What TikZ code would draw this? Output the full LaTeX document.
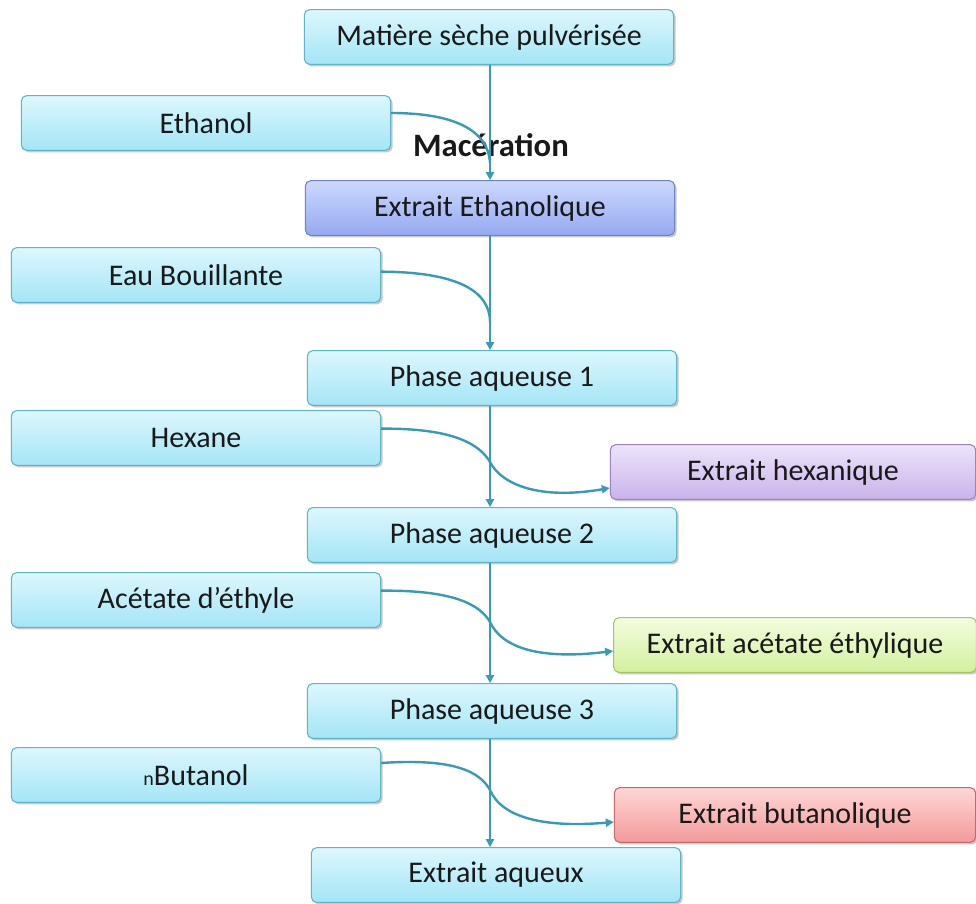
\documentclass[tikz,border=0pt]{standalone}
\usepackage{fontspec}
\setmainfont{Carlito}
\usetikzlibrary{shadows,arrows.meta,calc}
\definecolor{cyT}{HTML}{DDF7FD}
\definecolor{cyB}{HTML}{A4E5F6}
\definecolor{cyD}{HTML}{5FB3CB}
\definecolor{blT}{HTML}{CDD8FD}
\definecolor{blB}{HTML}{94A9F1}
\definecolor{blD}{HTML}{6E83C6}
\definecolor{puT}{HTML}{EDE3FA}
\definecolor{puB}{HTML}{C9B3EA}
\definecolor{puD}{HTML}{9A84BF}
\definecolor{grT}{HTML}{F3FDDF}
\definecolor{grB}{HTML}{D3F09F}
\definecolor{grD}{HTML}{A6C46E}
\definecolor{rdT}{HTML}{FFD6D6}
\definecolor{rdB}{HTML}{F39A9A}
\definecolor{rdD}{HTML}{C56A6A}
\definecolor{lineC}{HTML}{3A9AB6}
\tikzset{
  box/.style={draw=cyD, line width=0.8pt, rounded corners=4pt,
    top color=cyT, bottom color=cyB, minimum width=277pt, minimum height=41pt,
    inner sep=0pt, text=black!90, font=\fontsize{22.5}{26}\selectfont,
    drop shadow={shadow xshift=1.5pt, shadow yshift=-1.5pt, opacity=0.35, fill=black!60}},
  bluebox/.style={box, draw=blD, top color=blT, bottom color=blB},
  purplebox/.style={box, draw=puD, top color=puT, bottom color=puB, minimum width=274pt},
  greenbox/.style={box, draw=grD, top color=grT, bottom color=grB, minimum width=272pt},
  redbox/.style={box, draw=rdD, top color=rdT, bottom color=rdB, minimum width=271pt},
  conn/.style={draw=lineC, line width=1.8pt},
  arr/.style={conn, -{Triangle[length=6pt,width=6pt]}},
}
\begin{document}
\begin{tikzpicture}[x=0.75pt, y=-0.75pt]
\useasboundingbox[fill=white] (0,0) rectangle (976,904);
% main column
\node[box] (mat) at (489,37) {Matière sèche pulvérisée};
\node[bluebox] (eeth) at (490,208) {Extrait Ethanolique};
\node[box] (pa1) at (492,378) {Phase aqueuse 1};
\node[box] (pa2) at (492,535) {Phase aqueuse 2};
\node[box] (pa3) at (492,711) {Phase aqueuse 3};
\node[box] (aq) at (496,875) {Extrait aqueux};
% left inputs
\node[box] (eth) at (206,123) {Ethanol};
\node[box] (eau) at (196,275) {Eau Bouillante};
\node[box] (hex) at (196,438) {Hexane};
\node[box] (ace) at (196,600) {Acétate d’éthyle};
\node[box] (but) at (196,775) {{\fontsize{15}{15}\selectfont n}Butanol};
% right outputs
\node[purplebox] (xhex) at (793,472) {Extrait hexanique};
\node[greenbox] (xace) at (795,645) {Extrait acétate éthylique};
\node[redbox] (xbut) at (795,815) {Extrait butanolique};
% label
\node[font=\bfseries\fontsize{24.5}{28}\selectfont, text=black!90] (mac) at (491,145) {Macération};
% junction coordinates
\coordinate (j1) at (490,163);
\coordinate (j2) at (490,322);
\coordinate (c1) at (490,462);
\coordinate (c2) at (490,622);
\coordinate (c3) at (490,790);
% vertical flow
\draw[arr] (mat.south -| 490,0) -- (eeth.north -| 490,0);
\draw[arr] (eeth.south -| 490,0) -- (pa1.north -| 490,0);
\draw[arr] (pa1.south -| 490,0) -- (pa2.north -| 490,0);
\draw[arr] (pa2.south -| 490,0) -- (pa3.north -| 490,0);
\draw[arr] (pa3.south -| 490,0) -- (aq.north -| 490,0);
% inputs merging
\draw[conn] ([yshift=7.5pt]eth.east) .. controls (450,113) and (488,128) .. (j1);
\draw[conn] ([yshift=2.5pt]eau.east) .. controls (455,272) and (490,290) .. (j2);
% solvent curves to extracts
\draw[arr] ([yshift=7pt]hex.east) .. controls (455,428) and (480,445) .. (c1)
  .. controls (502,485) and (540,500) .. (xhex.west |- 0,488);
\draw[arr] ([yshift=7pt]ace.east) .. controls (455,590) and (480,605) .. (c2)
  .. controls (502,648) and (540,660) .. (xace.west |- 0,651);
\draw[arr] ([yshift=9pt]but.east) .. controls (455,758) and (480,772) .. (c3)
  .. controls (502,818) and (545,828) .. (xbut.west |- 0,822);
\end{tikzpicture}
\end{document}
